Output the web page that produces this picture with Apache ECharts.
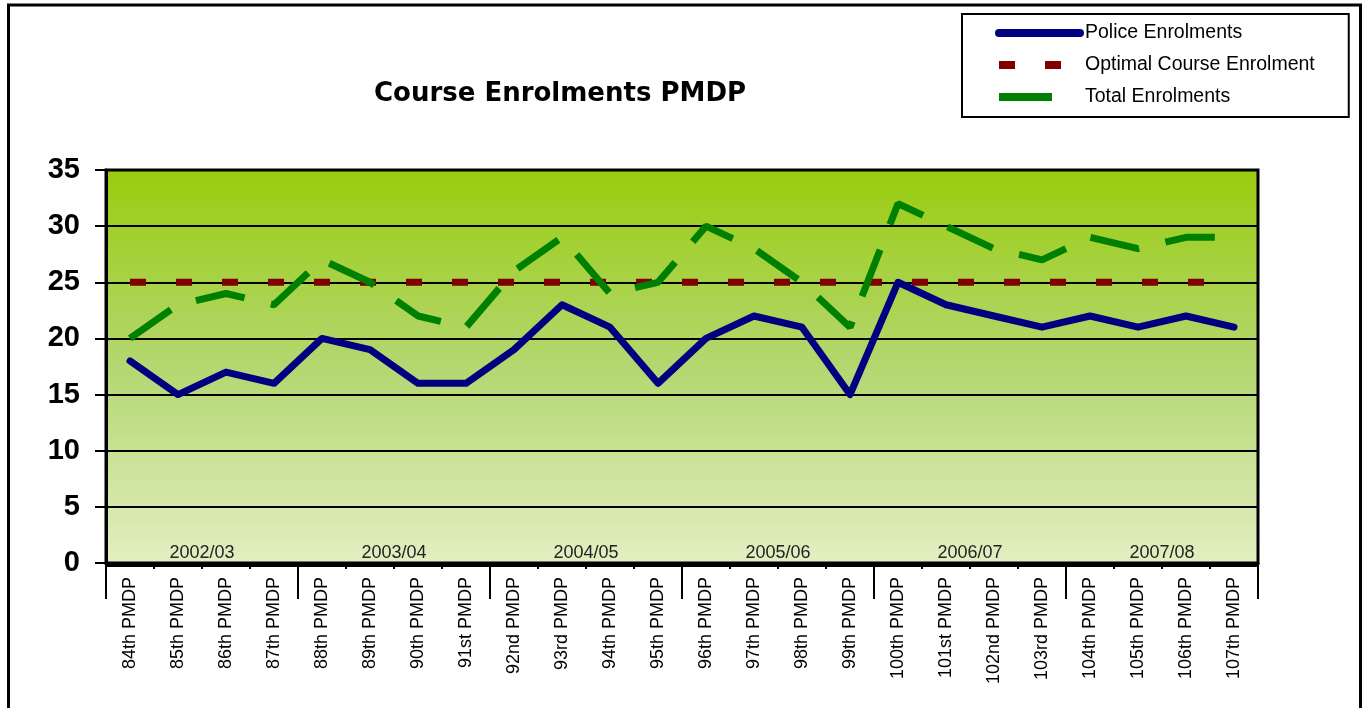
<!DOCTYPE html>
<html>
<head>
<meta charset="utf-8">
<title>Course Enrolments PMDP</title>
<script src="https://cdn.jsdelivr.net/npm/echarts@6/dist/echarts.min.js"></script>
<style>
  html, body { margin: 0; padding: 0; background: #fff; }
  #chart { width: 1366px; height: 708px; }
</style>
</head>
<body>
<div id="chart"></div>
<script>
// data
const courses = [
  '84th PMDP', '85th PMDP', '86th PMDP', '87th PMDP',
  '88th PMDP', '89th PMDP', '90th PMDP', '91st PMDP',
  '92nd PMDP', '93rd PMDP', '94th PMDP', '95th PMDP',
  '96th PMDP', '97th PMDP', '98th PMDP', '99th PMDP',
  '100th PMDP', '101st PMDP', '102nd PMDP', '103rd PMDP',
  '104th PMDP', '105th PMDP', '106th PMDP', '107th PMDP'
];
const years = ['2002/03', '2003/04', '2004/05', '2005/06', '2006/07', '2007/08'];
const policeEnrolments = [18, 15, 17, 16, 20, 19, 16, 16, 19, 23, 21, 16, 20, 22, 21, 15, 25, 23, 22, 21, 22, 21, 22, 21];
const optimalEnrolment = [25, 25, 25, 25, 25, 25, 25, 25, 25, 25, 25, 25, 25, 25, 25, 25, 25, 25, 25, 25, 25, 25, 25, 25];
const totalEnrolments = [20, 23, 24, 23, 27, 25, 22, 21, 26, 29, 24, 25, 30, 28, 25, 21, 32, 30, 28, 27, 29, 28, 29, 29];

const FONT = 'Liberation Sans, Arial, sans-serif';

const chart = echarts.init(document.getElementById('chart'));

// legend icons: line only, no symbol
const noSymbol = { opacity: 0 };

const option = {
  backgroundColor: '#fff',
  textStyle: { fontFamily: FONT },
  title: {
    text: 'Course Enrolments PMDP',
    left: 555,
    top: 76,
    textAlign: 'center',
    textStyle: { fontFamily: 'DejaVu Sans', fontWeight: 'bold', fontSize: 26, color: '#000' }
  },
  legend: {
    orient: 'vertical',
    left: 962,
    top: 14,
    itemWidth: 81,
    itemHeight: 20,
    itemGap: 12,
    padding: [9, 34, 10, 33],
    borderColor: '#000',
    borderWidth: 2,
    textStyle: { fontFamily: FONT, fontSize: 19.5, color: '#000', lineHeight: 20 },
    data: [
      { name: 'Police Enrolments', itemStyle: noSymbol, lineStyle: { width: 8, cap: 'round', type: 'solid' } },
      { name: 'Optimal Course Enrolment', itemStyle: noSymbol, lineStyle: { width: 8, type: [16, 30] } },
      { name: 'Total Enrolments', itemStyle: noSymbol, lineStyle: { width: 8, type: [53, 40] } }
    ]
  },
  graphic: [{
    type: 'rect',
    left: 6,
    top: 2.5,
    shape: { width: 1352, height: 730 },
    style: { fill: 'none', stroke: '#000', lineWidth: 3 },
    silent: true
  }],
  grid: {
    left: 106,
    right: 108,
    top: 170,
    bottom: 145,
    show: true,
    borderColor: '#000',
    borderWidth: 3,
    backgroundColor: new echarts.graphic.LinearGradient(0, 0, 0, 1, [
      { offset: 0, color: '#99cc0e' },
      { offset: 0.5, color: '#b4d770' },
      { offset: 1, color: '#e3efc2' }
    ])
  },
  xAxis: [{
    type: 'category',
    data: courses,
    boundaryGap: true,
    axisLine: { lineStyle: { color: '#000', width: 3 } },
    axisTick: { show: true, length: 6, lineStyle: { color: '#000', width: 2 } },
    axisLabel: {
      interval: 0,
      rotate: 90,
      margin: 14,
      fontSize: 18,
      color: '#000',
      fontFamily: FONT
    }
  }, {
    type: 'category',
    data: years,
    position: 'bottom',
    offset: 3,
    boundaryGap: true,
    axisLine: { show: true, lineStyle: { color: '#000', width: 2 } },
    axisTick: { show: true, length: 33, lineStyle: { color: '#000', width: 2 } },
    axisLabel: {
      inside: true,
      margin: 4,
      fontSize: 18,
      color: '#222',
      fontFamily: FONT
    }
  }],
  yAxis: {
    type: 'value',
    min: 0,
    max: 35,
    interval: 5,
    axisLine: { show: true, lineStyle: { color: '#000', width: 3 } },
    axisTick: { show: true, length: 11, lineStyle: { color: '#000', width: 2 } },
    splitLine: { show: true, lineStyle: { color: '#000', width: 2 } },
    axisLabel: { fontSize: 29, fontWeight: 'bold', color: '#000', margin: 26, fontFamily: FONT }
  },
  series: [{
    name: 'Optimal Course Enrolment',
    type: 'line',
    data: optimalEnrolment,
    symbol: 'none',
    color: '#800000',
    lineStyle: { color: '#800000', width: 7, type: [16, 30], cap: 'butt' },
    z: 3
  }, {
    name: 'Total Enrolments',
    type: 'line',
    data: totalEnrolments,
    symbol: 'none',
    color: '#008000',
    lineStyle: { color: '#008000', width: 7, type: [50, 27], cap: 'butt' },
    z: 4
  }, {
    name: 'Police Enrolments',
    type: 'line',
    data: policeEnrolments,
    symbol: 'none',
    color: '#000080',
    lineStyle: { color: '#000080', width: 7, cap: 'round', join: 'round' },
    z: 5
  }]
};

chart.setOption(option);
</script>
</body>
</html>
